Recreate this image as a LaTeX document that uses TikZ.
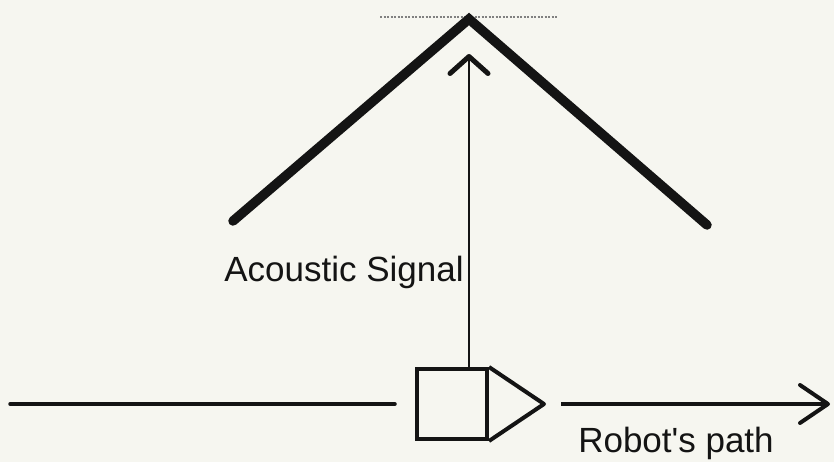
\documentclass[tikz,border=0pt]{standalone}
\usepackage{fontspec}
\setmainfont{Liberation Sans}
\usetikzlibrary{arrows.meta}
\definecolor{paper}{RGB}{246,246,240}
\definecolor{ink}{RGB}{20,20,20}
\tikzset{%
  tipS/.tip={Straight Barb[length=17pt,width=38pt,line width=5pt,round]},
  tipP/.tip={Straight Barb[length=28pt,width=38pt,line width=4pt,round]}
}

\begin{document}
\begin{tikzpicture}[x=1pt,y=-1pt,color=ink]
\fill[paper] (0,0) rectangle (834,462);
\coordinate (apex) at (469,19);
\coordinate (roofL) at (233,221);
\coordinate (roofR) at (707,225);
\coordinate (dotL) at (380,17);
\coordinate (dotR) at (558,17);
\coordinate (sigtip) at (469,54);
\coordinate (pathL) at (10,404);
\coordinate (pathR) at (830,404);
\coordinate (nose) at (544,404);
\draw[gray, line width=1.3pt, dash pattern=on 2pt off 1.5pt] (dotL) -- (dotR);
\draw[line width=9.5pt, line cap=round] (roofL) -- (apex) -- (roofR);
\node[draw, line width=4pt, minimum width=70pt, minimum height=70pt, inner sep=0pt] (robot) at (452,404) {};
\draw[line width=4pt, line join=round] (robot.north east) -- (nose) -- (robot.south east);
\draw[line width=1.5pt, -tipS] (robot.north -| apex) -- (sigtip);
\draw[line width=3.5pt, line cap=round, shorten >=20pt] (pathL) -- (robot.west);
\draw[line width=3.5pt, shorten <=17pt, -tipP] (nose) -- (pathR);
\node[anchor=base, font=\fontsize{35}{40}\selectfont] (signal) at (344,281) {Acoustic Signal};
\node[anchor=base, font=\fontsize{35}{40}\selectfont] (pathlabel) at (676,452) {Robot\textquotesingle s path};
\end{tikzpicture}
\end{document}
